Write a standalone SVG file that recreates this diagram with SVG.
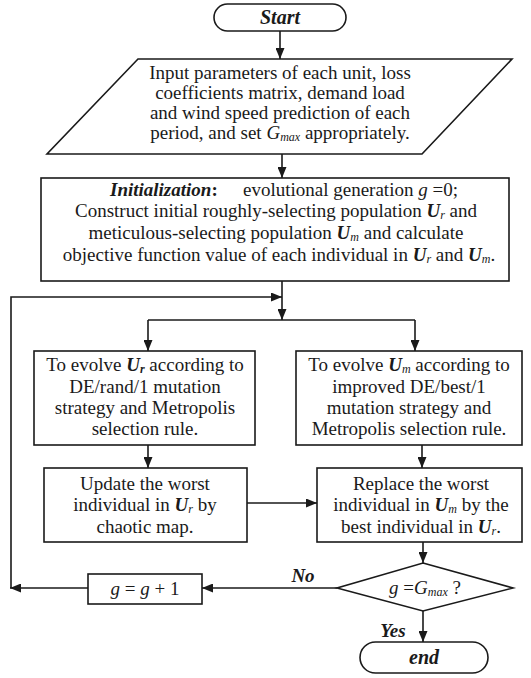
<svg xmlns="http://www.w3.org/2000/svg" width="531" height="678" viewBox="0 0 531 678">
<defs>
<marker id="ah" markerUnits="userSpaceOnUse" markerWidth="11" markerHeight="9" refX="11" refY="4.5" orient="auto">
<path d="M0,0 L11,4.5 L0,9 z" fill="#1a1a1a"/>
</marker>
<style>
.s{fill:#fff;stroke:#1a1a1a;stroke-width:1.6}
text{font-family:"Liberation Serif","Times New Roman",serif;fill:#1a1a1a}
.t{font-size:19px;text-anchor:middle}
.bi{font-weight:bold;font-style:italic}
.i{font-style:italic}
.sub{font-style:italic;font-size:12px}
.c{fill:none;stroke:#1a1a1a;stroke-width:1.6}
.a{marker-end:url(#ah)}
</style>
</defs>
<rect width="531" height="678" fill="#fff"/>

<g id="start">
<rect class="s" x="214" y="4" width="132" height="27" rx="13.5"/>
<text class="t bi" x="280" y="24" style="font-size:20px">Start</text>
</g>

<g id="input">
<polygon class="s" points="138,59 512,59 422,154 47,154"/>
<text class="t" x="280" y="79">Input parameters of each unit, loss</text>
<text class="t" x="280" y="99">coefficients matrix, demand load</text>
<text class="t" x="280" y="119">and wind speed prediction of each</text>
<text class="t" x="280" y="139">period, and set <tspan class="i">G</tspan><tspan class="sub" dy="2">max</tspan><tspan dy="-2"> appropriately.</tspan></text>
</g>

<g id="init">
<rect class="s" x="41" y="178" width="468" height="103" stroke-width="2"/>
<text class="t bi" x="110" y="196" style="text-anchor:start;font-size:19px">Initialization<tspan font-style="normal">:</tspan></text>
<text class="t" x="243" y="196" style="text-anchor:start">evolutional generation <tspan class="i">g</tspan> =0;</text>
<text class="t" x="276" y="217">Construct initial roughly-selecting population <tspan class="bi">U</tspan><tspan class="sub" dy="2">r</tspan><tspan dy="-2"> and</tspan></text>
<text class="t" x="276" y="239">meticulous-selecting population <tspan class="bi">U</tspan><tspan class="sub" dy="2">m</tspan><tspan dy="-2"> and calculate</tspan></text>
<text class="t" x="279" y="261">objective function value of each individual in <tspan class="bi">U</tspan><tspan class="sub" dy="2">r</tspan><tspan dy="-2"> and </tspan><tspan class="bi">U</tspan><tspan class="sub" dy="2">m</tspan><tspan dy="-2">.</tspan></text>
</g>

<g id="evolveR">
<rect class="s" x="34" y="351" width="221" height="94"/>
<text class="t" x="145" y="371">To evolve <tspan class="bi">U</tspan><tspan class="sub" dy="2" font-weight="bold">r</tspan><tspan dy="-2"> according to</tspan></text>
<text class="t" x="145" y="393">DE/rand/1 mutation</text>
<text class="t" x="145" y="414">strategy and Metropolis</text>
<text class="t" x="145" y="435">selection rule.</text>
</g>

<g id="evolveM">
<rect class="s" x="296" y="351" width="226" height="94"/>
<text class="t" x="409" y="371">To evolve <tspan class="bi">U</tspan><tspan class="sub" dy="2">m</tspan><tspan dy="-2"> according to</tspan></text>
<text class="t" x="409" y="393">improved DE/best/1</text>
<text class="t" x="409" y="414">mutation strategy and</text>
<text class="t" x="409" y="435">Metropolis selection rule.</text>
</g>

<g id="updateR">
<rect class="s" x="44" y="468" width="203" height="74"/>
<text class="t" x="145" y="490">Update the worst</text>
<text class="t" x="145" y="511">individual in <tspan class="bi">U</tspan><tspan class="sub" dy="2">r</tspan><tspan dy="-2"> by</tspan></text>
<text class="t" x="145" y="533">chaotic map.</text>
</g>

<g id="replaceM">
<rect class="s" x="317" y="468" width="205" height="74"/>
<text class="t" x="421" y="490">Replace the worst</text>
<text class="t" x="421" y="511">individual in <tspan class="bi">U</tspan><tspan class="sub" dy="2">m</tspan><tspan dy="-2"> by the</tspan></text>
<text class="t" x="421" y="533">best individual in <tspan class="bi">U</tspan><tspan class="sub" dy="2">r</tspan><tspan dy="-2">.</tspan></text>
</g>

<g id="decision">
<polygon class="s" points="423,563 513,588 423,611 337,588"/>
<text class="t" x="425" y="594"><tspan class="i">g</tspan> =<tspan class="i">G</tspan><tspan class="sub" dy="2">max</tspan><tspan dy="-2"> ?</tspan></text>
</g>

<g id="increment">
<rect class="s" x="88" y="574" width="114" height="30"/>
<text class="t" x="145" y="595"><tspan class="i">g</tspan> = <tspan class="i">g</tspan> + 1</text>
</g>

<g id="end">
<rect class="s" x="360" y="642" width="128" height="31" rx="15.5"/>
<text class="t bi" x="424" y="664" style="font-size:20px">end</text>
</g>

<g id="connectors">
<line class="c a" x1="280" y1="31" x2="280" y2="59"/>
<line class="c a" x1="282" y1="154" x2="282" y2="178"/>
<line class="c a" x1="282" y1="281" x2="282" y2="320"/>
<polyline class="c" points="148,320 415,320"/>
<line class="c a" x1="148" y1="320" x2="148" y2="351"/>
<line class="c a" x1="415" y1="320" x2="415" y2="351"/>
<line class="c a" x1="148" y1="445" x2="148" y2="468"/>
<line class="c a" x1="422" y1="445" x2="422" y2="468"/>
<line class="c a" x1="247" y1="503" x2="317" y2="503"/>
<line class="c a" x1="423" y1="542" x2="423" y2="563"/>
<line class="c a" x1="337" y1="588" x2="202" y2="588"/>
<line class="c a" x1="88" y1="588" x2="10" y2="588"/>
<polyline class="c a" points="11,588 11,297 282,297"/>
<line class="c a" x1="423" y1="611" x2="423" y2="642"/>
<text class="t bi" x="303" y="582" style="font-size:19px">No</text>
<text class="t bi" x="393" y="637" style="font-size:19px">Yes</text>
</g>
</svg>
